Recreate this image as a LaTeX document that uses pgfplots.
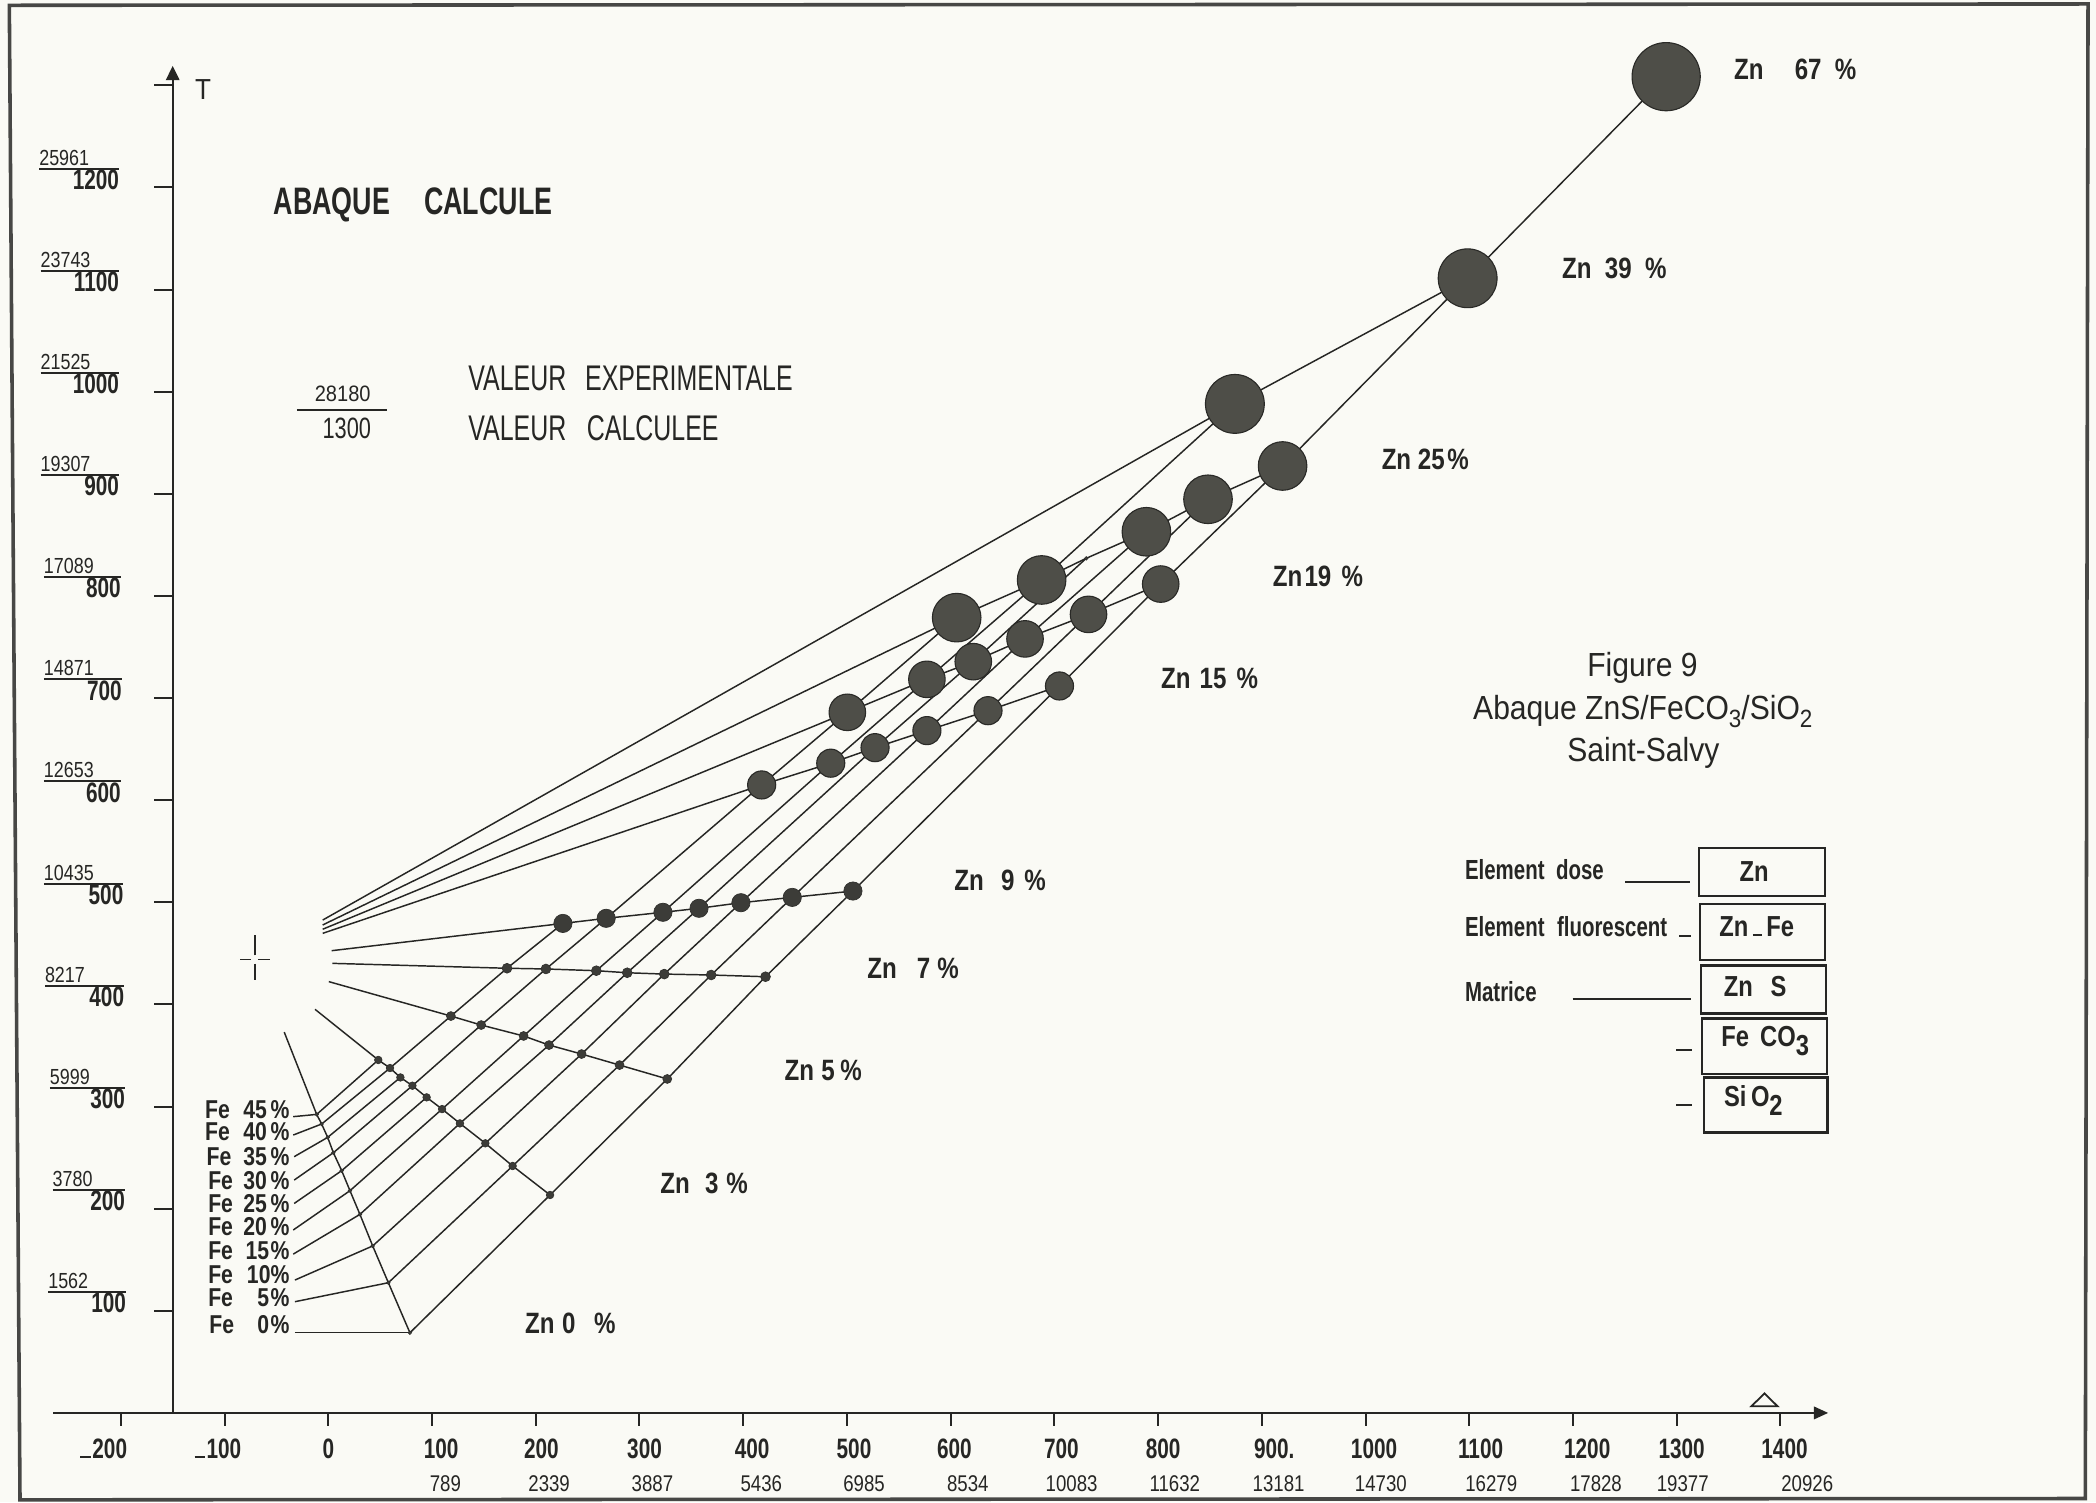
\documentclass[border=0pt]{standalone}
\usepackage{pgfplots}
\pgfplotsset{compat=1.18}
\usepackage{fontspec}
\usetikzlibrary{arrows.meta}
\setmainfont{Liberation Sans}
\newfontfamily\fA{Liberation Sans}[FakeStretch=0.70]
\newfontfamily\fB{Liberation Sans}[FakeStretch=0.82]
\newfontfamily\fC{Liberation Sans}[FakeStretch=0.90]
\newfontfamily\fD{Liberation Sans}[FakeStretch=0.74]
\definecolor{paper}{RGB}{250,250,245}
\definecolor{ink}{RGB}{38,38,36}
\definecolor{dotc}{RGB}{60,60,56}
\definecolor{dotl}{RGB}{78,78,72}
\newcommand{\fs}[1]{\fontsize{#1}{#1}\selectfont}
\tikzset{lab/.style={inner sep=0pt, outer sep=0pt, text=ink}}
\pgfplotsset{
  gl/.style={ink, line width=0.33pt, mark=none},
  dots/.style={only marks, mark=*, mark size=#1, mark options={fill=dotc, draw=dotc!80!black, line width=0.15pt}},
  bdots/.style={only marks, mark=*, mark size=#1, mark options={fill=dotl, draw=dotc!70!black, line width=0.25pt}},
}
\begin{document}
\begin{tikzpicture}
\begin{axis}[
  x=0.23279pt, y=0.22920pt,
  xmin=-316.5, xmax=1704.2, ymin=-87.7, ymax=1383.5,
  hide axis, clip=false]
% paper and frame
\fill[paper] (-316.5,-87.7) rectangle (1704.2,1383.5);
\draw[ink!85, line width=0.8pt] (-307.5,1378.3) -- (1696.5,1379.6) -- (1693.9,-83.8) -- (-297.2,-85.1) -- cycle;
% axes
\draw[ink, line width=0.45pt, -{Triangle[width=3pt,length=3.2pt]}] (-150,0) -- (-150,1319);
\draw[ink, line width=0.45pt, -{Triangle[width=2.8pt,length=3.2pt]}] (-265,0) -- (1446,0);
\draw[ink, line width=0.45pt] (-200,0)--(-200,-13) (-100,0)--(-100,-13) (0,0)--(0,-13) (100,0)--(100,-13) (200,0)--(200,-13) (300,0)--(300,-13) (400,0)--(400,-13) (500,0)--(500,-13) (600,0)--(600,-13) (700,0)--(700,-13) (800,0)--(800,-13) (900,0)--(900,-13) (1000,0)--(1000,-13) (1100,0)--(1100,-13) (1200,0)--(1200,-13) (1300,0)--(1300,-13) (1400,0)--(1400,-13);
\draw[ink, line width=0.45pt] (-150,100)--(-167.6,100) (-150,200)--(-167.6,200) (-150,300)--(-167.6,300) (-150,400)--(-167.6,400) (-150,500)--(-167.6,500) (-150,600)--(-167.6,600) (-150,700)--(-167.6,700) (-150,800)--(-167.6,800) (-150,900)--(-167.6,900) (-150,1000)--(-167.6,1000) (-150,1100)--(-167.6,1100) (-150,1200)--(-167.6,1200) (-150,1300)--(-167.6,1300);
\node[lab, font=\fC\fs{6.5pt}] at (-120.6,1295.8) {T};
\draw[ink, line width=0.4pt] (1371.9,6.5) -- (1397.2,6.5) -- (1384.6,19.1) -- cycle;
% x tick labels
\begin{scope}[every node/.style={lab, anchor=base, font=\fD\bfseries\fs{6.3pt}}]
\node at (-216.5,-44.5) {\rule{2.4pt}{0.5pt}\hspace{0.3pt}200};
\node at (-106.4,-44.5) {\rule{2.4pt}{0.5pt}\hspace{0.3pt}100};
\node at (0,-44.5) {0};
\node at (108.8,-44.5) {100};
\node at (205.4,-44.5) {200};
\node at (304.9,-44.5) {300};
\node at (408.6,-44.5) {400};
\node at (506.8,-44.5) {500};
\node at (603.6,-44.5) {600};
\node at (706.7,-44.5) {700};
\node at (804.9,-44.5) {800};
\node at (912,-44.5) {900.};
\node at (1008.2,-44.5) {1000};
\node at (1110.9,-44.5) {1100};
\node at (1213.7,-44.5) {1200};
\node at (1304.7,-44.5) {1300};
\node at (1403.9,-44.5) {1400};
\end{scope}
\begin{scope}[every node/.style={lab, anchor=base, font=\fB\fs{5.1pt}}]
\node at (112.9,-77) {789};
\node at (212.9,-77) {2339};
\node at (312.5,-77) {3887};
\node at (417.5,-77) {5436};
\node at (516.5,-77) {6985};
\node at (616.5,-77) {8534};
\node at (716.6,-77) {10083};
\node at (816.1,-77) {11632};
\node at (916.2,-77) {13181};
\node at (1014.7,-77) {14730};
\node at (1121.2,-77) {16279};
\node at (1222.1,-77) {17828};
\node at (1305.8,-77) {19377};
\node at (1425.8,-77) {20926};
\end{scope}
% y tick labels
\draw[ink, line width=0.45pt]
 (-278.6,1218.3)--(-201.8,1218.3) (-277.3,1118.3)--(-201.8,1118.3) (-277.3,1018.3)--(-201.8,1018.3)
 (-277.3,918.3)--(-201.8,918.3) (-274.1,818.3)--(-200.1,818.3) (-274.1,718.3)--(-199.2,718.3)
 (-274.1,618.3)--(-200.1,618.3) (-274.1,518.3)--(-197.6,518.3) (-273.1,418.3)--(-196.9,418.3)
 (-268.3,318.3)--(-196,318.3) (-265.7,218.3)--(-196,218.3) (-269.9,118.3)--(-195,118.3);
\begin{scope}[every node/.style={lab, anchor=base west, font=\fB\fs{4.9pt}}]
\node at (-278.6,1221.7) {25961};
\node at (-277.3,1121.7) {23743};
\node at (-277.3,1021.7) {21525};
\node at (-277.3,921.7) {19307};
\node at (-274.1,821.7) {17089};
\node at (-274.1,721.7) {14871};
\node at (-274.1,621.7) {12653};
\node at (-274.1,521.7) {10435};
\node at (-273.1,421.7) {8217};
\node at (-268.3,321.7) {5999};
\node at (-265.7,221.7) {3780};
\node at (-269.9,121.7) {1562};
\end{scope}
\begin{scope}[every node/.style={lab, anchor=base east, font=\fD\bfseries\fs{6.3pt}}]
\node at (-201.8,1198) {1200};
\node at (-201.8,1098) {1100};
\node at (-201.8,998) {1000};
\node at (-201.8,898) {900};
\node at (-200.1,798) {800};
\node at (-199.2,698) {700};
\node at (-200.1,598) {600};
\node at (-197.6,498) {500};
\node at (-196.9,398) {400};
\node at (-196,298) {300};
\node at (-196,198) {200};
\node at (-195,98) {100};
\end{scope}
% header texts
\node[lab, anchor=base west, font=\fA\bfseries\fs{8.6pt}] at (-52.6,1173.1) {ABAQUE};
\node[lab, anchor=base west, font=\fA\bfseries\fs{8.6pt}] at (92.5,1173.1) {CALCULE};
\node[lab, anchor=base west, font=\fA\fs{8.0pt}] at (135.1,1001.6) {VALEUR\hspace{4.2pt}EXPERIMENTALE};
\node[lab, anchor=base west, font=\fA\fs{8.0pt}] at (135.1,952.0) {VALEUR\hspace{4.6pt}CALCULEE};
\node[lab, anchor=base, font=\fC\fs{5.0pt}] at (13.9,990.2) {28180};
\draw[ink, line width=0.45pt] (-30.4,982.1) -- (56.4,982.1);
\node[lab, anchor=base, font=\fD\fs{6.6pt}] at (17.8,954.2) {1300};
% figure title and legend
\node[lab, anchor=base, font=\fC\fs{7.5pt}] at (1266.9,720.8) {Figure 9};
\node[lab, anchor=base, font=\fC\fs{7.5pt}] at (1267.3,679.3) {Abaque ZnS/FeCO\raisebox{-1.8pt}{\fs{5.6pt}3}/SiO\raisebox{-1.8pt}{\fs{5.6pt}2}};
\node[lab, anchor=base, font=\fC\fs{7.5pt}] at (1267.8,638.1) {Saint-Salvy};
\begin{scope}[every node/.style={lab, anchor=base west, font=\fD\bfseries\fs{6.2pt}}]
\node at (1095.9,522.8) {Element\hspace{2.6pt}dose};
\node at (1095.9,466.9) {Element\hspace{2.8pt}fluorescent};
\node at (1095.9,402.7) {Matrice};
\end{scope}
\draw[ink, line width=0.45pt] (1250.2,520.2) -- (1312.8,520.2) (1302.5,467.3) -- (1313.7,467.3) (1199.6,405.5) -- (1313.5,405.5) (1299.3,355.0) -- (1314.4,355.0) (1299.3,301.7) -- (1314.4,301.7);
\draw[ink, line width=0.5pt] (1321.8,553.1) rectangle (1443.0,506.0) (1322.6,498.2) rectangle (1443.0,443.3) (1323.2,438.2) rectangle (1443.6,391.0) (1324.3,386.3) rectangle (1444.6,331.9) (1325.9,328.5) rectangle (1445.3,274.6);
\begin{scope}[every node/.style={lab, anchor=center, font=\fB\bfseries\fs{6.5pt}}]
\node at (1374.5,530.2) {Zn};
\node at (1377.1,476.3) {Zn\hspace{1pt}\rule{2pt}{0.5pt}\hspace{1pt}Fe};
\node at (1375.6,417.2) {Zn\hspace{4pt}S};
\node at (1385.2,364.3) {Fe\hspace{2.5pt}CO\raisebox{-1.9pt}{3}};
\node at (1373.9,306.0) {Si\hspace{1pt}O\raisebox{-1.9pt}{2}};
\end{scope}
% crosshair
\draw[ink, line width=0.35pt] (-70.9,448) -- (-70.9,467.9) (-70.9,440) -- (-70.9,424) (-85,444.1) -- (-74.5,444.1) (-67.3,444.1) -- (-56.2,444.1);
% Fe labels and leaders
\begin{scope}[every node/.style={lab, anchor=base west, font=\fB\bfseries\fs{5.8pt}}]
\node at (-118.8,288.5) {Fe};
\node at (-118.8,267.1) {Fe};
\node at (-117.2,242.0) {Fe};
\node at (-115.7,219.0) {Fe};
\node at (-115.7,196.1) {Fe};
\node at (-115.7,174.2) {Fe};
\node at (-115.7,150.4) {Fe};
\node at (-115.7,126.8) {Fe};
\node at (-115.7,104.6) {Fe};
\node at (-114.7,77.9) {Fe};
\end{scope}
\begin{scope}[every node/.style={lab, anchor=base east, font=\fB\bfseries\fs{5.8pt}}]
\node at (-37.5,288.5) {45\hspace{0.8pt}\%};
\node at (-37.5,267.1) {40\hspace{0.8pt}\%};
\node at (-37.5,242.0) {35\hspace{0.8pt}\%};
\node at (-37.5,219.0) {30\hspace{0.8pt}\%};
\node at (-37.5,196.1) {25\hspace{0.8pt}\%};
\node at (-37.5,174.2) {20\hspace{0.8pt}\%};
\node at (-37.5,150.4) {15\hspace{0.3pt}\%};
\node at (-37.5,126.8) {10\%};
\node at (-37.5,104.6) {5\hspace{0.3pt}\%};
\node at (-37.5,77.9) {0\hspace{0.3pt}\%};
\end{scope}
\addplot[gl] coordinates {(-33.8,290.1) (-11.2,292.3)};
\addplot[gl] coordinates {(-33.8,272.1) (-6.4,282.9)};
\addplot[gl] coordinates {(-32.9,250.9) (-0.6,269.8)};
\addplot[gl] coordinates {(-32.9,228.0) (4.9,254.8)};
\addplot[gl] coordinates {(-32.9,205.1) (12.9,237.2)};
\addplot[gl] coordinates {(-33.8,179.1) (20.9,217.6)};
\addplot[gl] coordinates {(-33.8,155.5) (30.5,194.4)};
\addplot[gl] coordinates {(-32.2,130.1) (42.8,163.5)};
\addplot[gl] coordinates {(-32.2,108.9) (57.9,127.5)};
\addplot[gl] coordinates {(-32.2,78.5) (78.7,78.5)};
% Zn labels
\begin{scope}[every node/.style={lab, anchor=base west, font=\fB\bfseries\fs{6.6pt}}]
\node at (1355.3,1305.2) {Zn\hspace{7.0pt}67\hspace{3.0pt}\%};
\node at (1189.5,1111.0) {Zn\hspace{3.0pt}39\hspace{3.0pt}\%};
\node at (1015.6,924.0) {Zn\hspace{1.5pt}25\hspace{0.6pt}\%};
\node at (910.6,809.0) {Zn\hspace{0.5pt}19\hspace{2.3pt}\%};
\node at (803.0,709.4) {Zn\hspace{2.0pt}15\hspace{2.3pt}\%};
\node at (603.6,511.8) {Zn\hspace{3.9pt}9\hspace{2.2pt}\%};
\node at (519.7,425.4) {Zn\hspace{4.5pt}7\hspace{1.6pt}\%};
\node at (440.0,325.9) {Zn\hspace{1.6pt}5\hspace{1.3pt}\%};
\node at (320.2,215.1) {Zn\hspace{3.4pt}3\hspace{1.8pt}\%};
\node at (189.7,77.9) {Zn\hspace{1.7pt}0\hspace{4.2pt}\%};
\end{scope}
% Fe lines
\addplot[gl] coordinates {(78.7,78.5) (213.8,213.4) (326.8,327.0) (421.5,427.1) (505.8,511.0) (704.9,711.8) (802.5,811.6) (920.0,927.2) (1098.4,1111.0) (1289.8,1308.4)};
\addplot[gl] coordinates {(57.9,127.5) (177.7,241.8) (280.8,340.6) (369.1,428.8) (447.3,504.8) (636.0,687.6) (732.9,781.9) (848.1,894.6)};
\addplot[gl] coordinates {(42.8,163.5) (151.4,264.0) (244.2,351.4) (323.9,429.7) (397.8,499.6) (577.1,668.1) (671.7,757.9) (788.7,862.8)};
\addplot[gl] coordinates {(30.5,194.4) (126.9,283.5) (212.8,360.2) (288.2,431.0) (357.4,494.1) (527.1,651.4) (621.8,735.6) (730.7,836.8)};
\addplot[gl] coordinates {(20.9,217.6) (109.7,297.5) (188.3,369.1) (258.4,433.0) (322.6,490.2) (484.4,636.2) (577.1,718.3) (687.7,815.6) (874.0,988.0)};
\addplot[gl] coordinates {(12.9,237.2) (94.8,309.0)};
\addplot[gl] coordinates {(4.9,254.8) (81.1,320.4) (147.4,379.8) (209.8,434.7) (267.9,484.3) (417.8,614.9) (500.4,686.0) (605.8,778.7)};
\addplot[gl] coordinates {(-0.6,269.8) (69.5,328.5)};
\addplot[gl] coordinates {(-6.4,282.9) (59.5,337.7) (118.2,388.6) (172.3,435.4) (226.2,479.3)};
\addplot[gl] coordinates {(-11.2,292.3) (48.2,345.6)};
% Zn iso-lines
\addplot[gl] coordinates {(-42.5,372.9) (-11.2,292.3) (-6.4,282.9) (-0.6,269.8) (4.9,254.8) (12.9,237.2) (20.9,217.6) (30.5,194.4) (42.8,163.5) (57.9,127.5) (78.7,78.5)};
\addplot[gl] coordinates {(-12.8,395.2) (48.2,345.6) (59.5,337.7) (69.5,328.5) (81.1,320.4) (94.8,309.0) (109.7,297.5) (126.9,283.5) (151.4,264.0) (177.7,241.8) (213.8,213.4)};
\addplot[gl] coordinates {(0.5,422.3) (118.2,388.6) (147.4,379.8) (188.3,369.1) (212.8,360.2) (244.2,351.4) (280.8,340.6) (326.8,327.0)};
\addplot[gl] coordinates {(4.0,440.2) (172.3,435.4) (209.8,434.7) (258.4,433.0) (288.2,431.0) (323.9,429.7) (369.1,428.8) (421.5,427.1)};
\addplot[gl] coordinates {(3.2,452.6) (226.2,479.3) (267.9,484.3) (322.6,490.2) (357.4,494.1) (397.8,499.6) (447.3,504.8) (505.8,511.0)};
\addplot[gl] coordinates {(-5.4,469.6) (417.8,614.9) (484.4,636.2) (527.1,651.4) (577.1,668.1) (636.0,687.6) (704.9,711.8)};
\addplot[gl] coordinates {(-5.4,473.6) (500.4,686.0) (577.1,718.3) (621.8,735.6) (671.7,757.9) (732.9,781.9) (802.5,811.6)};
\addplot[gl] coordinates {(-5.4,477.8) (605.8,778.7) (687.7,815.6) (730.7,836.8) (788.7,862.8) (848.1,894.6) (920.0,927.2)};
\addplot[gl] coordinates {(-5.4,482.6) (874.0,988.0) (1098.4,1111.0)};
% points
\addplot[dots=0.4pt] coordinates {(-11.2,292.3) (-6.4,282.9) (-0.6,269.8) (4.9,254.8) (12.9,237.2) (20.9,217.6) (30.5,194.4) (42.8,163.5) (57.9,127.5) (78.7,78.5)};
\addplot[dots=0.85pt] coordinates {(48.2,345.6) (59.5,337.7) (69.5,328.5) (81.1,320.4) (94.8,309.0) (109.7,297.5) (126.9,283.5) (151.4,264.0) (177.7,241.8) (213.8,213.4)};
\addplot[dots=1.0pt] coordinates {(118.2,388.6) (147.4,379.8) (188.3,369.1) (212.8,360.2) (244.2,351.4) (280.8,340.6) (326.8,327.0)};
\addplot[dots=1.1pt] coordinates {(172.3,435.4) (209.8,434.7) (258.4,433.0) (288.2,431.0) (323.9,429.7) (369.1,428.8) (421.5,427.1)};
\addplot[dots=2.05pt] coordinates {(226.2,479.3) (267.9,484.3) (322.6,490.2) (357.4,494.1) (397.8,499.6) (447.3,504.8) (505.8,511.0)};
\addplot[bdots=3.15pt] coordinates {(417.8,614.9) (484.4,636.2) (527.1,651.4) (577.1,668.1) (636.0,687.6) (704.9,711.8)};
\addplot[bdots=4.1pt] coordinates {(500.4,686.0) (577.1,718.3) (621.8,735.6) (671.7,757.9) (732.9,781.9) (802.5,811.6)};
\addplot[bdots=5.45pt] coordinates {(605.8,778.7) (687.7,815.6) (788.7,862.8) (848.1,894.6) (920.0,927.2)};
\addplot[dots=0.4pt] coordinates {(730.7,836.8)};
\addplot[bdots=6.6pt] coordinates {(874.0,988.0) (1098.4,1111.0)};
\addplot[bdots=7.65pt] coordinates {(1289.8,1308.4)};
\end{axis}
\end{tikzpicture}
\end{document}
